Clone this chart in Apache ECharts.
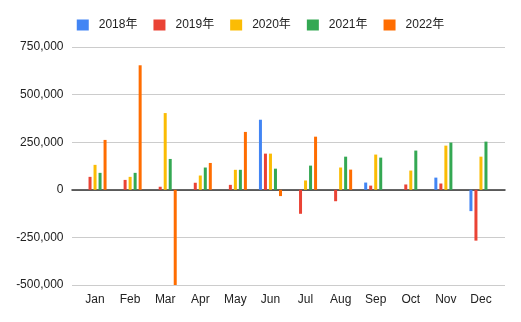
<!DOCTYPE html>
<html>
<head>
<meta charset="utf-8">
<script src="https://cdn.jsdelivr.net/npm/echarts@6/dist/echarts.min.js"></script>
<style>
  html, body { margin: 0; padding: 0; background: #fff; }
  #chart { width: 521px; height: 322px; }
</style>
</head>
<body>
<div id="chart"></div>
<script>
// Monthly change per year
const months = ['Jan', 'Feb', 'Mar', 'Apr', 'May', 'Jun', 'Jul', 'Aug', 'Sep', 'Oct', 'Nov', 'Dec'];
const years = ['2018年', '2019年', '2020年', '2021年', '2022年'];
const v2018 = [null, null, null, null, null, 368000, null, null, 38000, null, 64000, -112000];
const v2019 = [68000, 52000, 16000, 37000, 26000, 190000, -126000, -60000, 22000, 28000, 33000, -267000];
const v2020 = [131000, 68000, 403000, 75000, 105000, 190000, 49000, 117000, 185000, 101000, 232000, 174000];
const v2021 = [89000, 89000, 162000, 117000, 105000, 111000, 127000, 174000, 169000, 206000, 248000, 253000];
const v2022 = [262000, 654000, -500000, 141000, 304000, -33000, 279000, 106000, null, null, null, null];
const yTicks = { min: -500000, max: 750000, step: 250000 };

const colors = ['#4285F4', '#EA4335', '#FBBC04', '#34A853', '#FF6D01'];
const seriesValues = [v2018, v2019, v2020, v2021, v2022];

const chart = echarts.init(document.getElementById('chart'), null, { renderer: 'canvas' });

const font = 'Arial, "Liberation Sans", "Noto Sans CJK SC", sans-serif';

chart.setOption({
  animation: false,
  color: colors,
  textStyle: { fontFamily: font },
  legend: {
    top: 14,
    left: 'center',
    itemWidth: 12,
    itemHeight: 11,
    itemGap: 16,
    icon: 'rect',
    textStyle: { fontSize: 12, color: '#222', fontFamily: font, padding: [0, 0, 0, 5] },
    data: years
  },
  grid: [
    { left: 77.5, right: 22.5, top: 47, bottom: 37 },
    { left: 72, right: 16, top: 47, bottom: 37 }
  ],
  xAxis: [
    {
      type: 'category',
      gridIndex: 0,
      data: months,
      axisLine: { show: false },
      axisTick: { show: false },
      axisLabel: { color: '#222', fontSize: 12, margin: 9, fontFamily: font }
    },
    {
      type: 'category',
      gridIndex: 1,
      data: months,
      axisLine: { show: true, onZero: true, lineStyle: { color: '#333', width: 1.5 } },
      axisTick: { show: false },
      axisLabel: { show: false }
    }
  ],
  yAxis: [
    {
      type: 'value',
      gridIndex: 0,
      min: yTicks.min,
      max: yTicks.max,
      interval: yTicks.step,
      splitLine: { show: false },
      axisLine: { show: false },
      axisTick: { show: false },
      axisLabel: { color: '#222', fontSize: 12, margin: 14, fontFamily: font }
    },
    {
      type: 'value',
      gridIndex: 1,
      min: yTicks.min,
      max: yTicks.max,
      interval: yTicks.step,
      splitLine: { show: true, lineStyle: { color: '#cccccc', width: 1 } },
      axisLine: { show: false },
      axisTick: { show: false },
      axisLabel: { show: false }
    }
  ],
  series: years.map((name, i) => ({
    name: name,
    type: 'bar',
    xAxisIndex: 0,
    yAxisIndex: 0,
    data: seriesValues[i],
    barWidth: 3,
    barGap: '67%',
    z: 3,
    itemStyle: { color: colors[i] }
  }))
});
</script>
</body>
</html>
